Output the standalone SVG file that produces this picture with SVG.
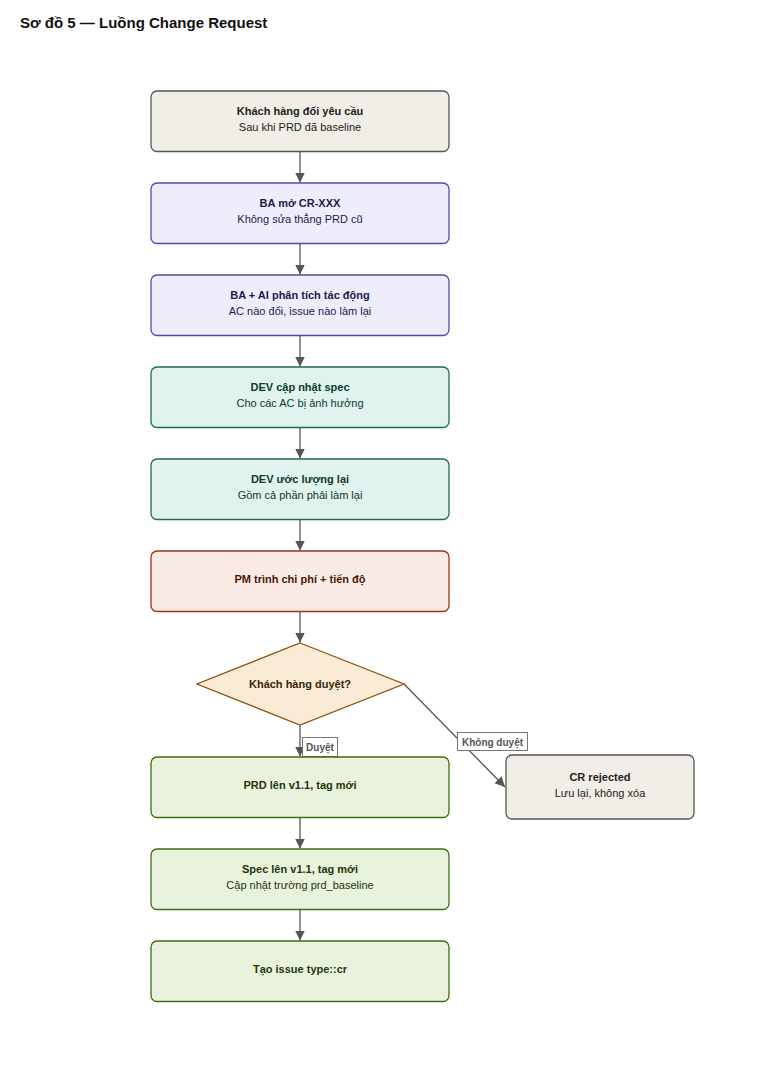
<svg xmlns="http://www.w3.org/2000/svg" width="760" height="1080" viewBox="0 0 760 1080">
<defs>
<marker id="arr" viewBox="0 0 10 10" refX="10" refY="5" markerWidth="10" markerHeight="10" markerUnits="userSpaceOnUse" orient="auto">
<path d="M0,0 L10,5 L0,10 z" fill="#555"/>
</marker>
<style>
text{font-family:"Liberation Sans",Arial,sans-serif;text-anchor:middle}
.t{font-size:11px;font-weight:bold}
.s{font-size:11px}
.edge{stroke:#555;stroke-width:1.3;fill:none;marker-end:url(#arr)}
.gray rect{fill:#f1eee7;stroke:#555}
.gray text{fill:#222}
.ba rect{fill:#eeedfc;stroke:#5646b0}
.ba text{fill:#1e1b4b}
.dev rect{fill:#e1f3ee;stroke:#1e6b4c}
.dev text{fill:#0d3b2c}
.pm rect{fill:#faebe6;stroke:#9a3412}
.pm text{fill:#4a1608}
.dec polygon{fill:#faebd7;stroke:#8a5412}
.dec text{fill:#3d2508}
.gr rect{fill:#e9f2dd;stroke:#3f6d14}
.gr text{fill:#1d3808}
rect{stroke-width:1.3}
.lbl rect{fill:#fff;stroke:#777;stroke-width:1}
.lbl text{font-size:10px;font-weight:bold;fill:#555}
</style>
</defs>
<rect width="760" height="1080" fill="#fff"/>
<text x="20" y="27.5" style="font-size:15px;font-weight:bold;text-anchor:start;fill:#111">Sơ đồ 5 — Luồng Change Request</text>

<g id="connectors">
<line class="edge" x1="300" y1="151.5" x2="300" y2="182.5"/>
<line class="edge" x1="300" y1="243.5" x2="300" y2="274.5"/>
<line class="edge" x1="300" y1="335.5" x2="300" y2="366.5"/>
<line class="edge" x1="300" y1="427.5" x2="300" y2="458.5"/>
<line class="edge" x1="300" y1="519.5" x2="300" y2="550.5"/>
<line class="edge" x1="300" y1="611.5" x2="300" y2="642.5"/>
<line class="edge" x1="300" y1="725.5" x2="300" y2="756.5"/>
<line class="edge" x1="404" y1="684" x2="505" y2="787"/>
<line class="edge" x1="300" y1="817.5" x2="300" y2="848.5"/>
<line class="edge" x1="300" y1="909.5" x2="300" y2="940.5"/>
<g class="lbl"><rect x="302.5" y="737.5" width="35" height="19"/><text x="320" y="751">Duyệt</text></g>
<g class="lbl"><rect x="457.5" y="732.5" width="70" height="18"/><text x="492.5" y="745.5">Không duyệt</text></g>
</g>

<g id="n1" class="gray"><rect x="151" y="91" width="298" height="60.5" rx="6"/><text class="t" x="300" y="115">Khách hàng đổi yêu cầu</text><text class="s" x="300" y="131">Sau khi PRD đã baseline</text></g>
<g id="n2" class="ba"><rect x="151" y="183" width="298" height="60.5" rx="6"/><text class="t" x="300" y="207">BA mở CR-XXX</text><text class="s" x="300" y="223">Không sửa thẳng PRD cũ</text></g>
<g id="n3" class="ba"><rect x="151" y="275" width="298" height="60.5" rx="6"/><text class="t" x="300" y="299">BA + AI phân tích tác động</text><text class="s" x="300" y="315">AC nào đổi, issue nào làm lại</text></g>
<g id="n4" class="dev"><rect x="151" y="367" width="298" height="60.5" rx="6"/><text class="t" x="300" y="391">DEV cập nhật spec</text><text class="s" x="300" y="407">Cho các AC bị ảnh hưởng</text></g>
<g id="n5" class="dev"><rect x="151" y="459" width="298" height="60.5" rx="6"/><text class="t" x="300" y="483">DEV ước lượng lại</text><text class="s" x="300" y="499">Gồm cả phần phải làm lại</text></g>
<g id="n6" class="pm"><rect x="151" y="551" width="298" height="60.5" rx="6"/><text class="t" x="300" y="583">PM trình chi phí + tiến độ</text></g>
<g id="n7" class="dec"><polygon points="300,643 404,684 300,725 197,684" stroke-width="1.3"/><text class="t" x="300" y="688">Khách hàng duyệt?</text></g>
<g id="n8" class="gr"><rect x="151" y="757" width="298" height="60.5" rx="6"/><text class="t" x="300" y="789">PRD lên v1.1, tag mới</text></g>
<g id="n9" class="gr"><rect x="151" y="849" width="298" height="60.5" rx="6"/><text class="t" x="300" y="873">Spec lên v1.1, tag mới</text><text class="s" x="300" y="889">Cập nhật trường prd_baseline</text></g>
<g id="n10" class="gr"><rect x="151" y="941" width="298" height="60.5" rx="6"/><text class="t" x="300" y="973">Tạo issue type::cr</text></g>
<g id="n11" class="gray"><rect x="506" y="755" width="188" height="64" rx="6"/><text class="t" x="600" y="781">CR rejected</text><text class="s" x="600" y="797">Lưu lại, không xóa</text></g>
</svg>
